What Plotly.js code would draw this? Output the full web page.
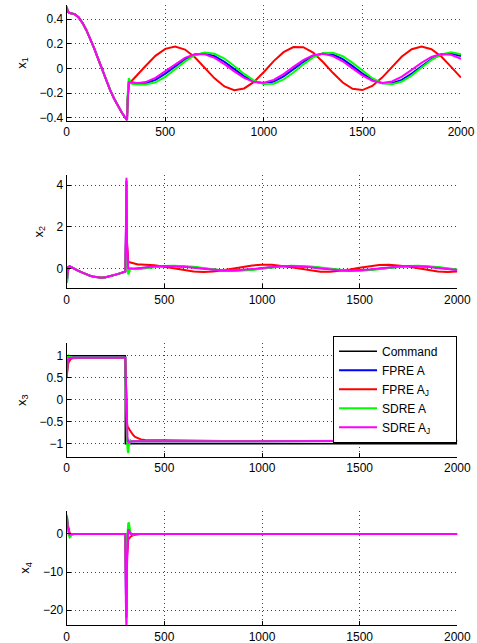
<!DOCTYPE html>
<html>
<head>
<meta charset="utf-8">
<script src="https://cdn.plot.ly/plotly-3.0.1.min.js"></script>
<style>html,body{margin:0;padding:0;background:#fff;}#chart{width:477px;height:643px;}</style>
</head>
<body>
<div id="chart"></div>
<script>
// ---- time grids ----
const t = [0,2,5,10,15,20,30,40,60,80,100,120,140,160,180,200,220,240,260,280,295,300,303,306,309,312,315,318,322,326,330,340,350,365,380,400,450,500,550,600,650,700,750,800,850,900,950,1000,1050,1100,1150,1200,1250,1300,1350,1400,1450,1500,1550,1600,1650,1700,1750,1800,1850,1900,1950,2000];
const tS = [0,2,5,10,15,20,30,40,60,80,100,120,140,160,180,200,220,240,260,280,295,300,303,306,309,312,315,318,322,326,330,340,350,365,380,400,800,1200,1600,2000];

// ---- x1 ----
const x1Blue = [0.50,0.48,0.465,0.455,0.45,0.448,0.445,0.44,0.415,0.37,0.31,0.24,0.16,0.075,-0.01,-0.095,-0.175,-0.245,-0.305,-0.36,-0.395,-0.405,-0.413,-0.42,
  -0.26,-0.115,-0.113,-0.113,-0.114,-0.115,-0.116,-0.118,-0.12,-0.121,-0.122,
  -0.120,-0.093,-0.042,0.018,0.075,0.112,0.121,0.100,0.054,-0.006,-0.064,-0.107,-0.122,-0.107,-0.065,-0.006,0.053,0.100,0.121,0.112,0.075,0.018,-0.042,-0.092,-0.120,-0.120,-0.093,-0.042,0.019,0.075,0.112,0.121,0.100];
const x1Red = [0.50,0.48,0.465,0.455,0.45,0.448,0.445,0.44,0.415,0.37,0.31,0.24,0.16,0.075,-0.01,-0.095,-0.175,-0.245,-0.305,-0.36,-0.395,-0.405,-0.413,-0.42,
  -0.26,-0.12,-0.118,-0.115,-0.111,-0.105,-0.100,-0.084,-0.068,-0.043,-0.016,
  0.019,0.102,0.159,0.178,0.153,0.090,0.005,-0.081,-0.147,-0.177,-0.163,-0.110,-0.029,0.059,0.132,0.173,0.172,0.128,0.052,-0.036,-0.115,-0.166,-0.176,-0.143,-0.075,0.012,0.096,0.156,0.178,0.156,0.096,0.012,-0.075];
const x1Green = [0.50,0.48,0.465,0.455,0.45,0.448,0.445,0.44,0.415,0.37,0.31,0.24,0.16,0.075,-0.01,-0.095,-0.175,-0.245,-0.305,-0.36,-0.395,-0.405,-0.413,-0.42,
  -0.22,-0.09,-0.08,-0.09,-0.11,-0.12,-0.125,-0.128,-0.13,-0.131,-0.131,
  -0.130,-0.114,-0.069,-0.007,0.057,0.107,0.129,0.119,0.080,0.020,-0.045,-0.099,-0.127,-0.124,-0.090,-0.033,0.033,0.089,0.124,0.127,0.099,0.045,-0.020,-0.080,-0.119,-0.129,-0.107,-0.057,0.007,0.069,0.114,0.130,0.114];
const x1Magenta = [0.50,0.48,0.465,0.455,0.45,0.448,0.445,0.44,0.415,0.37,0.31,0.24,0.16,0.075,-0.01,-0.095,-0.175,-0.245,-0.305,-0.36,-0.395,-0.405,-0.413,-0.42,
  -0.27,-0.115,-0.112,-0.112,-0.113,-0.114,-0.115,-0.117,-0.118,-0.118,-0.116,
  -0.111,-0.077,-0.024,0.035,0.085,0.114,0.114,0.086,0.035,-0.024,-0.077,-0.111,-0.117,-0.093,-0.047,0.012,0.067,0.106,0.118,0.100,0.058,0.000,-0.057,-0.100,-0.118,-0.106,-0.067,-0.012,0.046,0.093,0.117,0.111,0.077];

// ---- x2 ----
const x2Blue = [0.1,-0.6,-0.2,0.05,0.1,0.08,0.02,-0.03,-0.12,-0.21,-0.29,-0.36,-0.41,-0.44,-0.45,-0.43,-0.39,-0.34,-0.28,-0.22,-0.17,-0.15,
  1.5,4.2,1.0,0.05,-0.05,-0.03,-0.02,-0.02,-0.02,-0.03,-0.03,-0.015,0.0,
  0.023,0.075,0.108,0.114,0.091,0.045,-0.012,-0.066,-0.103,-0.115,-0.098,-0.056,0.000,0.056,0.098,0.115,0.103,0.066,0.012,-0.045,-0.091,-0.114,-0.108,-0.075,-0.023,0.034,0.083,0.111,0.111,0.083,0.035,-0.023,-0.075];
const x2Red = [0.1,-0.4,-0.2,0.05,0.1,0.08,0.02,-0.03,-0.12,-0.21,-0.29,-0.36,-0.41,-0.44,-0.45,-0.43,-0.39,-0.34,-0.28,-0.22,-0.17,-0.15,
  1.0,2.8,1.2,0.4,0.32,0.3,0.29,0.27,0.25,0.22,0.2,0.185,0.178,
  0.174,0.144,0.078,-0.007,-0.090,-0.151,-0.175,-0.156,-0.098,-0.016,0.069,0.138,0.173,0.165,0.117,0.040,-0.047,-0.122,-0.167,-0.171,-0.133,-0.062,0.024,0.104,0.159,0.175,0.147,0.084,0.000,-0.084,-0.148,-0.175,-0.159];
const x2Green = [0.1,-0.7,-0.2,0.05,0.1,0.08,0.02,-0.03,-0.12,-0.21,-0.29,-0.36,-0.41,-0.44,-0.45,-0.43,-0.39,-0.34,-0.28,-0.22,-0.17,-0.15,
  1.2,4.0,0.5,-0.3,-0.3,-0.22,-0.1,-0.04,-0.02,-0.04,-0.045,-0.045,-0.025,
  0.000,0.061,0.106,0.125,0.112,0.071,0.013,-0.049,-0.099,-0.124,-0.117,-0.082,-0.025,0.037,0.091,0.121,0.121,0.091,0.038,-0.025,-0.081,-0.117,-0.124,-0.099,-0.049,0.013,0.071,0.112,0.125,0.106,0.061,0.000,-0.061];
const x2Magenta = [0.1,-0.5,-0.2,0.05,0.1,0.08,0.02,-0.03,-0.12,-0.21,-0.29,-0.36,-0.41,-0.44,-0.45,-0.43,-0.39,-0.34,-0.28,-0.22,-0.17,-0.15,
  1.8,4.35,1.2,0.05,0.0,0.0,-0.005,-0.01,-0.01,-0.015,-0.01,0.0,0.017,
  0.039,0.085,0.110,0.107,0.077,0.028,-0.028,-0.077,-0.107,-0.110,-0.085,-0.039,0.017,0.069,0.103,0.111,0.092,0.049,-0.006,-0.059,-0.098,-0.112,-0.098,-0.059,-0.006,0.049,0.092,0.111,0.103,0.069,0.017,-0.039,-0.085];

// ---- x3 ----
const cmdT = [0,300,300,2000];
const cmdV = [1,1,-1,-1];
const x3Blue = [0.5,0.7,0.85,0.93,0.95,0.95,0.95,0.95,
  0.95,0.95,0.95,0.95,0.95,0.95,0.95,0.95,0.95,0.95,0.95,0.95,0.95,0.95,
  0.4,-0.4,-0.85,-0.93,-0.96,-0.955,-0.95,-0.948,-0.946,-0.945,-0.945,-0.945,-0.945,-0.945,-0.942,-0.938,-0.935,-0.932];
const x3Red = [0.5,0.65,0.75,0.85,0.89,0.92,0.94,0.945,
  0.945,0.945,0.945,0.945,0.945,0.945,0.945,0.945,0.945,0.945,0.945,0.945,0.945,0.945,
  0.5,-0.2,-0.55,-0.62,-0.63,-0.65,-0.68,-0.71,-0.74,-0.8,-0.845,-0.88,-0.9,-0.913,-0.935,-0.935,-0.932,-0.928];
const x3Green = [0.5,0.75,0.95,1.0,0.99,0.97,0.955,0.95,
  0.95,0.95,0.95,0.95,0.95,0.95,0.95,0.95,0.95,0.95,0.95,0.95,0.95,0.95,
  0.3,-0.6,-0.95,-1.15,-1.21,-1.05,-0.93,-0.92,-0.935,-0.945,-0.945,-0.945,-0.945,-0.945,-0.942,-0.938,-0.935,-0.932];
const x3Magenta = [0.5,0.72,0.88,0.94,0.95,0.95,0.95,0.95,
  0.95,0.95,0.95,0.95,0.95,0.95,0.95,0.95,0.95,0.95,0.95,0.95,0.95,0.95,
  0.45,-0.35,-0.85,-0.94,-0.96,-0.955,-0.95,-0.948,-0.946,-0.945,-0.945,-0.945,-0.945,-0.945,-0.942,-0.938,-0.935,-0.932];

// ---- x4 ----
const x4Blue = [4.5,4.0,2.0,0.3,-0.2,-0.1,0,0,
  0,0,0,0,0,0,0,0,0,0,0,0,0,0,
  -15,-22,-5,0.5,1.5,1.2,0.5,0.2,0.0,0,0,0,0,0,0,0,0,0];
const x4Red = [4.0,3.5,2.2,0.8,0.2,0.0,0,0,
  0,0,0,0,0,0,0,0,0,0,0,0,0,0,
  -10,-18,-6,-1.5,-1.5,-1.3,-1.0,-0.8,-0.6,-0.35,-0.2,-0.1,-0.03,0,0,0,0,0];
const x4Green = [5.0,4.7,2.5,-0.3,-0.9,-0.6,-0.1,0,
  0,0,0,0,0,0,0,0,0,0,0,0,0,0,
  -12,-21,-2,1.5,2.8,3.0,1.5,0.5,0.1,-0.2,-0.1,0,0,0,0,0,0,0];
const x4Magenta = [4.6,4.2,2.0,0.3,-0.2,-0.1,0,0,
  0,0,0,0,0,0,0,0,0,0,0,0,0,0,
  -18,-26,-8,0.5,1.2,1.0,0.4,0.1,0,0,0,0,0,0,0,0,0,0];

// ---- labels / ticks ----
const seriesNames = ['FPRE A','FPRE A<sub>J</sub>','SDRE A','SDRE A<sub>J</sub>'];
const seriesColors = ['#0000ff','#ff0000','#00ff00','#ff00ff'];
const commandName = 'Command';
const yTitles = ['x<sub>1</sub>','x<sub>2</sub>','x<sub>3</sub>','x<sub>4</sub>'];
const xTicks = [0,500,1000,1500,2000];
const yTicks1 = [-0.4,-0.2,0,0.2,0.4];
const yTicks2 = [0,2,4];
const yTicks3 = [-1,-0.5,0,0.5,1];
const yTicks4 = [-20,-10,0];

const panels = [
  {tt: t,  ys: [x1Blue,x1Red,x1Green,x1Magenta]},
  {tt: t,  ys: [x2Blue,x2Red,x2Green,x2Magenta]},
  {tt: tS, ys: [x3Blue,x3Red,x3Green,x3Magenta]},
  {tt: tS, ys: [x4Blue,x4Red,x4Green,x4Magenta]}
];

const PAD = '\u00a0\u00a0\u00a0\u00a0'; // extra room on the right of the legend box
const traces = [];
traces.push({x: cmdT, y: cmdV, xaxis: 'x3', yaxis: 'y3', type: 'scatter', mode: 'lines',
  name: commandName + PAD, line: {color: '#000000', width: 1.5}, showlegend: true, legendrank: 1});
panels.forEach((p, i) => {
  const ax = i === 0 ? '' : String(i + 1);
  p.ys.forEach((yy, k) => {
    traces.push({x: p.tt, y: yy, xaxis: 'x' + ax, yaxis: 'y' + ax, type: 'scatter', mode: 'lines',
      name: seriesNames[k], legendgroup: 's' + k, legendrank: k + 2,
      showlegend: i === 2, line: {color: seriesColors[k], width: 2}});
  });
});

const W = 477, H = 643;
const base = {
  showline: true, linecolor: '#000', linewidth: 1, mirror: false,
  ticks: 'inside', ticklen: 4, tickcolor: '#000', tickwidth: 1,
  showgrid: true, gridcolor: '#444', gridwidth: 1, griddash: '1px,3px',
  zeroline: false, tickmode: 'array', tickfont: {size: 12, color: '#000'}
};
function xa(left, right, anchor) {
  return Object.assign({}, base, {domain: [left / W, right / W], anchor: anchor, range: [0, 2000], tickvals: xTicks});
}
function ya(top, bottom, anchor, range, ticks, title) {
  return Object.assign({}, base, {domain: [1 - bottom / H, 1 - top / H], anchor: anchor, range: range, tickvals: ticks,
    title: {text: title, font: {size: 13, color: '#000'}, standoff: 10}});
}

const layout = {
  width: W, height: H,
  margin: {l: 0, r: 0, t: 0, b: 0},
  paper_bgcolor: '#fff', plot_bgcolor: '#fff',
  font: {family: 'Liberation Sans, Arial, Helvetica, sans-serif', size: 12, color: '#000'},
  showlegend: true,
  legend: {x: 457 / W, xanchor: 'right', y: 1 - 335.7 / H, yanchor: 'top',
    bgcolor: '#fff', bordercolor: '#000', borderwidth: 1, font: {size: 12, color: '#000'},
    itemwidth: 38, traceorder: 'normal', tracegroupgap: 0},
  xaxis: xa(66.7, 461, 'y'),
  yaxis: ya(5, 120.7, 'x', [-0.425, 0.515], yTicks1, yTitles[0]),
  xaxis2: xa(66.7, 457.3, 'y2'),
  yaxis2: ya(175, 288.3, 'x2', [-0.96, 4.48], yTicks2, yTitles[1]),
  xaxis3: xa(66.7, 457.3, 'y3'),
  yaxis3: ya(343.3, 457, 'x3', [-1.3, 1.28], yTicks3, yTitles[2]),
  xaxis4: xa(66.7, 457.3, 'y4'),
  yaxis4: ya(510.7, 625.3, 'x4', [-24, 6.1], yTicks4, yTitles[3])
};

Plotly.newPlot('chart', traces, layout, {displayModeBar: false, responsive: false});
</script>
</body>
</html>
